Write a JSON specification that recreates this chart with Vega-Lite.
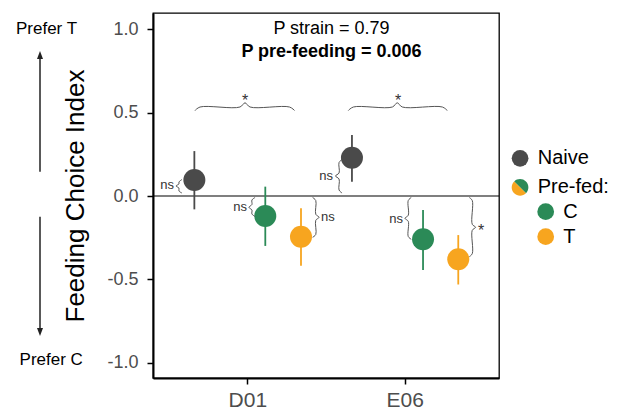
{
  "$schema": "https://vega.github.io/schema/vega-lite/v6.json",
  "width": 346,
  "height": 365,
  "autosize": {"type": "none"},
  "padding": {"left": 153, "top": 13, "right": 120, "bottom": 32},
  "background": "white",
  "config": {
    "font": "Liberation Sans",
    "view": {"stroke": "black", "strokeWidth": 1.3},
    "axis": {"grid": false, "domainColor": "black", "domainWidth": 2, "tickColor": "black", "tickWidth": 1.5, "tickSize": 6, "labelColor": "#4d4d4d", "labelFont": "Liberation Sans"}
  },
  "datasets": {
    "pts": [
      {"strain": "D01", "group": "Naive", "x": 0.663, "m": 0.096, "lo": -0.08, "hi": 0.269},
      {"strain": "D01", "group": "C", "x": 1.114, "m": -0.12, "lo": -0.299, "hi": 0.056},
      {"strain": "D01", "group": "T", "x": 1.341, "m": -0.244, "lo": -0.417, "hi": -0.074},
      {"strain": "E06", "group": "Naive", "x": 1.665, "m": 0.229, "lo": 0.086, "hi": 0.365},
      {"strain": "E06", "group": "C", "x": 2.117, "m": -0.259, "lo": -0.443, "hi": -0.084},
      {"strain": "E06", "group": "T", "x": 2.341, "m": -0.379, "lo": -0.53, "hi": -0.234}
    ],
    "braces": [
      {"b": "h1", "i": 0, "x": 0.667, "y": 0.512}, {"b": "h1", "i": 1, "x": 0.699, "y": 0.533}, {"b": "h1", "i": 2, "x": 0.953, "y": 0.533}, {"b": "h1", "i": 3, "x": 0.985, "y": 0.558}, {"b": "h1", "i": 4, "x": 1.017, "y": 0.533}, {"b": "h1", "i": 5, "x": 1.268, "y": 0.533}, {"b": "h1", "i": 6, "x": 1.3, "y": 0.512},
      {"b": "h2", "i": 0, "x": 1.642, "y": 0.512}, {"b": "h2", "i": 1, "x": 1.674, "y": 0.533}, {"b": "h2", "i": 2, "x": 1.922, "y": 0.533}, {"b": "h2", "i": 3, "x": 1.953, "y": 0.558}, {"b": "h2", "i": 4, "x": 1.985, "y": 0.533}, {"b": "h2", "i": 5, "x": 2.24, "y": 0.533}, {"b": "h2", "i": 6, "x": 2.271, "y": 0.512},
      {"b": "v1", "i": 0, "x": 0.584, "y": 0.0988}, {"b": "v1", "i": 1, "x": 0.565, "y": 0.0838}, {"b": "v1", "i": 2, "x": 0.565, "y": 0.0719}, {"b": "v1", "i": 3, "x": 0.546, "y": 0.0599}, {"b": "v1", "i": 4, "x": 0.565, "y": 0.0479}, {"b": "v1", "i": 5, "x": 0.565, "y": 0.0299}, {"b": "v1", "i": 6, "x": 0.584, "y": 0.018},
      {"b": "v2", "i": 0, "x": 1.602, "y": 0.2186}, {"b": "v2", "i": 1, "x": 1.583, "y": 0.2006}, {"b": "v2", "i": 2, "x": 1.583, "y": 0.1377}, {"b": "v2", "i": 3, "x": 1.56, "y": 0.1198}, {"b": "v2", "i": 4, "x": 1.583, "y": 0.1018}, {"b": "v2", "i": 5, "x": 1.583, "y": 0.0359}, {"b": "v2", "i": 6, "x": 1.602, "y": 0.018},
      {"b": "v3", "i": 0, "x": 1.049, "y": -0.009}, {"b": "v3", "i": 1, "x": 1.029, "y": -0.024}, {"b": "v3", "i": 2, "x": 1.029, "y": -0.051}, {"b": "v3", "i": 3, "x": 1.01, "y": -0.0677}, {"b": "v3", "i": 4, "x": 1.029, "y": -0.0838}, {"b": "v3", "i": 5, "x": 1.029, "y": -0.1078}, {"b": "v3", "i": 6, "x": 1.049, "y": -0.1228},
      {"b": "v4", "i": 0, "x": 1.415, "y": -0.009}, {"b": "v4", "i": 1, "x": 1.435, "y": -0.027}, {"b": "v4", "i": 2, "x": 1.435, "y": -0.1096}, {"b": "v4", "i": 3, "x": 1.456, "y": -0.1275}, {"b": "v4", "i": 4, "x": 1.435, "y": -0.1455}, {"b": "v4", "i": 5, "x": 1.435, "y": -0.2305}, {"b": "v4", "i": 6, "x": 1.415, "y": -0.2473},
      {"b": "v5", "i": 0, "x": 2.042, "y": -0.009}, {"b": "v5", "i": 1, "x": 2.023, "y": -0.027}, {"b": "v5", "i": 2, "x": 2.023, "y": -0.1156}, {"b": "v5", "i": 3, "x": 2.002, "y": -0.1335}, {"b": "v5", "i": 4, "x": 2.023, "y": -0.1515}, {"b": "v5", "i": 5, "x": 2.023, "y": -0.2425}, {"b": "v5", "i": 6, "x": 2.042, "y": -0.2593},
      {"b": "v6", "i": 0, "x": 2.411, "y": -0.009}, {"b": "v6", "i": 1, "x": 2.43, "y": -0.027}, {"b": "v6", "i": 2, "x": 2.43, "y": -0.1695}, {"b": "v6", "i": 3, "x": 2.451, "y": -0.1874}, {"b": "v6", "i": 4, "x": 2.43, "y": -0.2054}, {"b": "v6", "i": 5, "x": 2.43, "y": -0.3455}, {"b": "v6", "i": 6, "x": 2.411, "y": -0.3635}
    ],
    "notes": [
      {"t": "ns", "k": "r", "x": 0.534, "y": 0.066},
      {"t": "ns", "k": "r", "x": 1.545, "y": 0.1216},
      {"t": "ns", "k": "r", "x": 0.998, "y": -0.066},
      {"t": "ns", "k": "l", "x": 1.468, "y": -0.124},
      {"t": "ns", "k": "r", "x": 1.99, "y": -0.1395},
      {"t": "*", "k": "c", "x": 2.486, "y": -0.2096},
      {"t": "*", "k": "c", "x": 0.985, "y": 0.571},
      {"t": "*", "k": "c", "x": 1.958, "y": 0.571}
    ],
    "outer": [
      {"t": "Prefer T", "k": "prefer", "x": -0.277, "y": 1.0},
      {"t": "Prefer C", "k": "prefer", "x": -0.247, "y": -0.982},
      {"t": "P strain = 0.79", "k": "p", "x": 1.535, "y": 1.0},
      {"t": "P pre-feeding = 0.006", "k": "pb", "x": 1.535, "y": 0.865},
      {"t": "Naive", "k": "leg", "x": 2.846, "y": 0.2257},
      {"t": "Pre-fed:", "k": "leg", "x": 2.846, "y": 0.056},
      {"t": "C", "k": "leg", "x": 3.009, "y": -0.096},
      {"t": "T", "k": "leg", "x": 3.009, "y": -0.2455}
    ],
    "arrows": [
      {"a": "up", "i": 0, "x": -0.3185, "y": 0.1455}, {"a": "up", "i": 1, "x": -0.3185, "y": 0.838},
      {"a": "dn", "i": 0, "x": -0.3185, "y": -0.124}, {"a": "dn", "i": 1, "x": -0.3185, "y": -0.808}
    ],
    "legend": [
      {"group": "Naive", "x": 2.734, "y": 0.2257},
      {"group": "C", "x": 2.897, "y": -0.094},
      {"group": "T", "x": 2.897, "y": -0.2437}
    ]
  },
  "layer": [
    {
      "data": {"values": [{}]},
      "mark": {"type": "rule", "color": "black", "strokeWidth": 1.2},
      "encoding": {"y": {"datum": 0, "type": "quantitative"}}
    },
    {
      "data": {"name": "pts"},
      "mark": {"type": "rule", "strokeWidth": 1.8},
      "encoding": {
        "x": {"field": "x", "type": "quantitative", "scale": {"domain": [0.4, 2.6], "nice": false, "zero": false},
          "axis": {"values": [1, 2], "labelExpr": "datum.value == 1 ? 'D01' : 'E06'", "title": null, "labelFontSize": 21, "labelPadding": 5}},
        "y": {"field": "lo", "type": "quantitative", "scale": {"domain": [-1.09, 1.096], "nice": false, "zero": false},
          "axis": {"values": [-1, -0.5, 0, 0.5, 1], "labelExpr": "replace(format(datum.value, '.1f'), '\u2212', '-')", "title": "Feeding Choice Index", "titleFontSize": 26, "titleFontWeight": "normal", "titleColor": "black", "titleX": -65, "titleY": 182.5, "titleAngle": 270, "titleAlign": "center", "titleBaseline": "bottom", "labelFontSize": 18, "labelPadding": 9}},
        "y2": {"field": "hi"},
        "color": {"field": "group", "type": "nominal", "scale": {"domain": ["Naive", "C", "T"], "range": ["#4a4a4a", "#2b8a57", "#f7a51f"]}, "legend": null}
      }
    },
    {
      "data": {"name": "pts"},
      "mark": {"type": "point", "filled": true, "opacity": 1, "size": 484, "shape": "circle", "strokeWidth": 0},
      "encoding": {
        "x": {"field": "x", "type": "quantitative"},
        "y": {"field": "m", "type": "quantitative"},
        "color": {"field": "group", "type": "nominal", "legend": null}
      }
    },
    {
      "data": {"name": "braces"},
      "mark": {"type": "line", "color": "#555555", "strokeWidth": 1, "interpolate": "catmull-rom"},
      "encoding": {
        "x": {"field": "x", "type": "quantitative"},
        "y": {"field": "y", "type": "quantitative"},
        "detail": {"field": "b"},
        "order": {"field": "i", "type": "quantitative"}
      }
    },
    {
      "data": {"name": "notes"},
      "transform": [{"filter": "datum.k == 'r'"}],
      "mark": {"type": "text", "align": "right", "baseline": "middle", "fontSize": 13, "color": "#333333"},
      "encoding": {"x": {"field": "x", "type": "quantitative"}, "y": {"field": "y", "type": "quantitative"}, "text": {"field": "t"}}
    },
    {
      "data": {"name": "notes"},
      "transform": [{"filter": "datum.k == 'l'"}],
      "mark": {"type": "text", "align": "left", "baseline": "middle", "fontSize": 13, "color": "#333333"},
      "encoding": {"x": {"field": "x", "type": "quantitative"}, "y": {"field": "y", "type": "quantitative"}, "text": {"field": "t"}}
    },
    {
      "data": {"name": "notes"},
      "transform": [{"filter": "datum.k == 'c'"}],
      "mark": {"type": "text", "align": "center", "baseline": "middle", "fontSize": 16, "color": "#333333"},
      "encoding": {"x": {"field": "x", "type": "quantitative"}, "y": {"field": "y", "type": "quantitative"}, "text": {"field": "t"}}
    },
    {
      "data": {"name": "outer"},
      "transform": [{"filter": "datum.k == 'prefer'"}],
      "mark": {"type": "text", "align": "center", "baseline": "middle", "fontSize": 17, "color": "black"},
      "encoding": {"x": {"field": "x", "type": "quantitative"}, "y": {"field": "y", "type": "quantitative"}, "text": {"field": "t"}}
    },
    {
      "data": {"name": "outer"},
      "transform": [{"filter": "datum.k == 'p'"}],
      "mark": {"type": "text", "align": "center", "baseline": "middle", "fontSize": 18, "color": "black"},
      "encoding": {"x": {"field": "x", "type": "quantitative"}, "y": {"field": "y", "type": "quantitative"}, "text": {"field": "t"}}
    },
    {
      "data": {"name": "outer"},
      "transform": [{"filter": "datum.k == 'pb'"}],
      "mark": {"type": "text", "align": "center", "baseline": "middle", "fontSize": 18, "fontWeight": "bold", "color": "black"},
      "encoding": {"x": {"field": "x", "type": "quantitative"}, "y": {"field": "y", "type": "quantitative"}, "text": {"field": "t"}}
    },
    {
      "data": {"name": "outer"},
      "transform": [{"filter": "datum.k == 'leg'"}],
      "mark": {"type": "text", "align": "left", "baseline": "middle", "fontSize": 20, "color": "black"},
      "encoding": {"x": {"field": "x", "type": "quantitative"}, "y": {"field": "y", "type": "quantitative"}, "text": {"field": "t"}}
    },
    {
      "data": {"name": "arrows"},
      "mark": {"type": "line", "color": "#222222", "strokeWidth": 1.5},
      "encoding": {
        "x": {"field": "x", "type": "quantitative"},
        "y": {"field": "y", "type": "quantitative"},
        "detail": {"field": "a"},
        "order": {"field": "i", "type": "quantitative"}
      }
    },
    {
      "data": {"name": "arrows"},
      "transform": [{"filter": "datum.a == 'up' && datum.i == 1"}],
      "mark": {"type": "point", "filled": true, "opacity": 1, "color": "#222222", "size": 64, "strokeWidth": 0, "shape": "M0,-1L-0.75,1L0.75,1Z", "yOffset": -1},
      "encoding": {"x": {"field": "x", "type": "quantitative"}, "y": {"field": "y", "type": "quantitative"}}
    },
    {
      "data": {"name": "arrows"},
      "transform": [{"filter": "datum.a == 'dn' && datum.i == 1"}],
      "mark": {"type": "point", "filled": true, "opacity": 1, "color": "#222222", "size": 64, "strokeWidth": 0, "shape": "M0,1L-0.75,-1L0.75,-1Z", "yOffset": 1},
      "encoding": {"x": {"field": "x", "type": "quantitative"}, "y": {"field": "y", "type": "quantitative"}}
    },
    {
      "data": {"name": "legend"},
      "mark": {"type": "point", "filled": true, "opacity": 1, "size": 280, "shape": "circle", "strokeWidth": 0},
      "encoding": {
        "x": {"field": "x", "type": "quantitative"},
        "y": {"field": "y", "type": "quantitative"},
        "color": {"field": "group", "type": "nominal", "legend": null}
      }
    },
    {
      "data": {"values": [{"x": 2.734, "y": 0.052}]},
      "mark": {"type": "point", "filled": true, "opacity": 1, "size": 280, "strokeWidth": 0, "color": "#2b8a57", "shape": "M-0.7071,-0.7071A1,1,0,0,1,0.7071,0.7071Z"},
      "encoding": {"x": {"field": "x", "type": "quantitative"}, "y": {"field": "y", "type": "quantitative"}}
    },
    {
      "data": {"values": [{"x": 2.734, "y": 0.052}]},
      "mark": {"type": "point", "filled": true, "opacity": 1, "size": 280, "strokeWidth": 0, "color": "#f7a51f", "shape": "M0.7071,0.7071A1,1,0,0,1,-0.7071,-0.7071Z"},
      "encoding": {"x": {"field": "x", "type": "quantitative"}, "y": {"field": "y", "type": "quantitative"}}
    }
  ]
}
